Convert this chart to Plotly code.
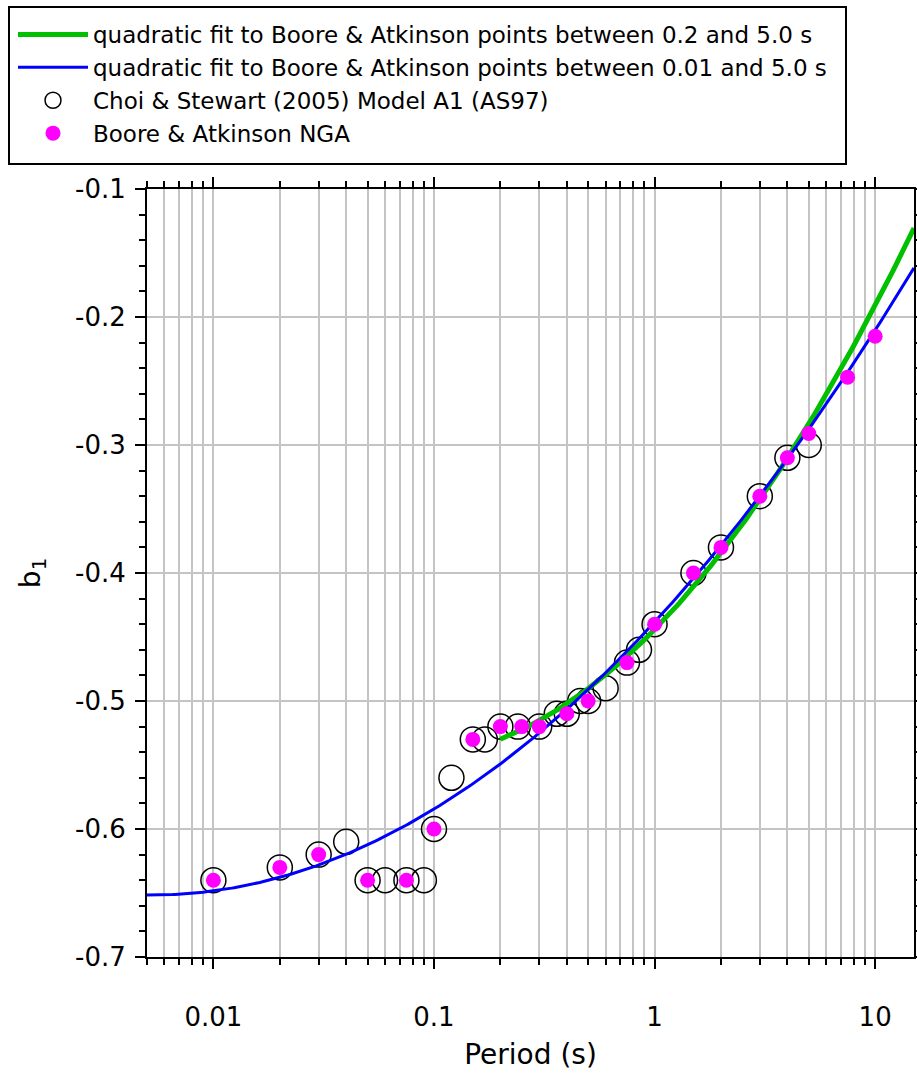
import numpy as np
import plotly.graph_objects as go

# Boore & Atkinson NGA nonlinear-site coefficient b1
ba_period = [0.01, 0.02, 0.03, 0.05, 0.075, 0.1, 0.15, 0.2, 0.25, 0.3, 0.4, 0.5,
             0.75, 1.0, 1.5, 2.0, 3.0, 4.0, 5.0, 7.5, 10.0]
ba_b1 = [-0.64, -0.63, -0.62, -0.64, -0.64, -0.60, -0.53, -0.52, -0.52, -0.52, -0.51, -0.50,
         -0.47, -0.44, -0.40, -0.38, -0.34, -0.31, -0.291, -0.247, -0.215]

# Choi & Stewart (2005) Model A1 (AS97)
cs_period = [0.01, 0.02, 0.03, 0.04, 0.05, 0.06, 0.075, 0.09, 0.1, 0.12, 0.15, 0.17,
             0.2, 0.24, 0.3, 0.36, 0.4, 0.46, 0.5, 0.6, 0.75, 0.85, 1.0, 1.5, 2.0,
             3.0, 4.0, 5.0]
cs_b1 = [-0.64, -0.63, -0.62, -0.61, -0.64, -0.64, -0.64, -0.64, -0.60, -0.56, -0.53, -0.53,
         -0.52, -0.52, -0.52, -0.51, -0.51, -0.50, -0.50, -0.49, -0.47, -0.46, -0.44, -0.40, -0.38,
         -0.34, -0.31, -0.30]

x_ticks = [0.01, 0.1, 1, 10]
x_ticktext = ["0.01", "0.1", "1", "10"]
y_ticks = [-0.7, -0.6, -0.5, -0.4, -0.3, -0.2, -0.1]
y_ticktext = ["-0.7", "-0.6", "-0.5", "-0.4", "-0.3", "-0.2", "-0.1"]

T_MIN, T_MAX = 0.005, 15.0
FONT = "DejaVu Sans, Verdana, sans-serif"
GRID = "#c4c4c4"

ba_t = np.array(ba_period)
ba_v = np.array(ba_b1)


def quad_fit(t_lo, t_hi, t_eval):
    """Quadratic in log10(T) fitted to the BA points within [t_lo, t_hi]."""
    sel = (ba_t >= t_lo - 1e-9) & (ba_t <= t_hi + 1e-9)
    coef = np.polyfit(np.log10(ba_t[sel]), ba_v[sel], 2)
    return np.polyval(coef, np.log10(t_eval))


t_blue = np.logspace(np.log10(T_MIN), np.log10(T_MAX), 300)
t_green = np.logspace(np.log10(0.2), np.log10(T_MAX), 200)

fig = go.Figure()

fig.add_trace(go.Scatter(
    x=cs_period, y=cs_b1, mode="markers",
    name="Choi & Stewart (2005) Model A1 (AS97)", legendrank=3,
    marker=dict(symbol="circle-open", size=25, color="black",
                line=dict(color="black", width=1.5)),
))
fig.add_trace(go.Scatter(
    x=t_green, y=quad_fit(0.2, 5.0, t_green), mode="lines",
    name="quadratic fit to Boore & Atkinson points between 0.2 and 5.0 s", legendrank=1,
    line=dict(color="#00c000", width=5),
))
fig.add_trace(go.Scatter(
    x=t_blue, y=quad_fit(0.01, 5.0, t_blue), mode="lines",
    name="quadratic fit to Boore & Atkinson points between 0.01 and 5.0 s", legendrank=2,
    line=dict(color="#0000ff", width=3),
))
fig.add_trace(go.Scatter(
    x=ba_period, y=ba_b1, mode="markers",
    name="Boore & Atkinson NGA", legendrank=4,
    marker=dict(symbol="circle", size=15, color="#ff00ff"),
))

# plot area in pixels: left 147, right 914, top 189, bottom 957
W, H = 917, 1074
L, R, T, B = 147, 914, 189, 957
pw, ph = R - L, B - T


def px_x(p):
    return (p - L) / pw


def px_y(p):
    return (B - p) / ph


fig.update_layout(
    width=W, height=H,
    margin=dict(l=L, r=W - R, t=T, b=H - B, pad=0, autoexpand=False),
    paper_bgcolor="white", plot_bgcolor="white",
    font=dict(family=FONT, color="black"),
    showlegend=True,
    legend=dict(
        x=px_x(13), y=px_y(13), xanchor="left", yanchor="top",
        font=dict(size=23, family=FONT), bgcolor="rgba(0,0,0,0)",
        borderwidth=0, itemwidth=70, tracegroupgap=0,
    ),
    shapes=[dict(type="rect", xref="paper", yref="paper",
                 x0=px_x(9), x1=px_x(846), y0=px_y(164), y1=px_y(7),
                 line=dict(color="black", width=2), fillcolor="rgba(0,0,0,0)",
                 layer="above")],
    xaxis=dict(
        type="log", range=[np.log10(T_MIN), np.log10(T_MAX)],
        tickmode="array", tickvals=x_ticks, ticktext=x_ticktext,
        ticks="outside", ticklen=10, tickwidth=2, tickcolor="black",
        showline=True, linecolor="black", linewidth=2, mirror="ticks",
        showgrid=True, gridcolor=GRID, gridwidth=1.5,
        tickfont=dict(size=26), ticklabelstandoff=26,
        minor=dict(dtick="D1", ticks="outside", ticklen=6, tickwidth=2,
                   tickcolor="black", showgrid=True, gridcolor=GRID, gridwidth=1.5),
        title=dict(text="Period (s)", font=dict(size=28), standoff=13),
        zeroline=False,
    ),
    yaxis=dict(
        range=[-0.7, -0.1],
        tickmode="array", tickvals=y_ticks, ticktext=y_ticktext,
        ticks="outside", ticklen=10, tickwidth=2, tickcolor="black",
        showline=True, linecolor="black", linewidth=2, mirror="ticks",
        showgrid=True, gridcolor=GRID, gridwidth=1.5,
        tickfont=dict(size=26), ticklabelstandoff=4,
        minor=dict(tick0=-0.1, dtick=0.02, ticks="outside", ticklen=6, tickwidth=2,
                   tickcolor="black", showgrid=False),
        title=dict(text="b<sub>1</sub>", font=dict(size=28), standoff=26),
        zeroline=False,
    ),
    yaxis2=dict(
        overlaying="y", range=[-0.7, -0.1], tick0=-0.1, dtick=0.05,
        showgrid=True, gridcolor=GRID, gridwidth=1.5,
        showticklabels=False, ticks="", showline=False, zeroline=False,
    ),
)

fig.write_html("out.html")
